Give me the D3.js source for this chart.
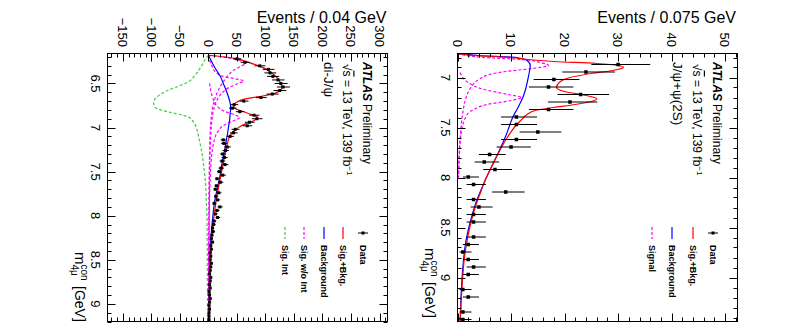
<!DOCTYPE html>
<html>
<head>
<meta charset="utf-8">
<script src="https://cdn.jsdelivr.net/npm/d3@7"></script>
<style>
  body { margin: 0; background: #fff; }
  svg { display: block; }
  text { font-family: "Liberation Sans", Arial, sans-serif; }
</style>
</head>
<body>
<div id="chart"></div>
<script>
// ---------- di-J/psi panel (0.04 GeV bins) ----------
const diMass = [
  6.22, 6.26, 6.30, 6.34, 6.38, 6.42, 6.46, 6.50, 6.54, 6.58,
  6.62, 6.66, 6.70, 6.74, 6.78, 6.82, 6.86, 6.90, 6.94, 6.98,
  7.02, 7.06, 7.10, 7.14, 7.18, 7.22, 7.26, 7.30, 7.34, 7.38,
  7.42, 7.46, 7.50, 7.54, 7.58, 7.62, 7.66, 7.70, 7.74, 7.78,
  7.82, 7.86, 7.90, 7.94, 7.98, 8.02, 8.06, 8.10, 8.14, 8.18,
  8.22, 8.26, 8.30, 8.34, 8.38, 8.42, 8.46, 8.50, 8.54, 8.58,
  8.62, 8.66, 8.70, 8.74, 8.78, 8.82, 8.86, 8.90, 8.94, 8.98,
  9.02, 9.06, 9.10, 9.14, 9.18
];
const diCounts = [
  50, 64, 90, 105, 108, 113, 122, 127, 131, 125,
  112, 92, 62, 45, 42, 55, 80, 85, 72, 68,
  47, 44, 38, 26, 27, 33, 30, 25, 28, 24,
  29, 22, 19, 25, 15, 21, 14, 12, 18, 13,
  16, 10, 20, 15, 12, 16, 10, 9, 7, 8,
  6, 5, 7, 4, 5, 3, 4, 3, 5, 4,
  3, 2, 4, 3, 2, 3, 1, 2, 3, 2,
  1, 2, 1, 1, 1
];
// curves as [mass, events]
const diSigBkg = [[6.18,0],[6.20,30],[6.22,50],[6.26,70],[6.30,88],[6.34,102],[6.39,113],[6.44,121],[6.50,127],[6.55,129],[6.59,123],[6.62,112],[6.65,88],[6.68,62],[6.71,50],[6.75,44],[6.78,46],[6.81,57],[6.84,70],[6.87,84],[6.89,86],[6.92,80],[6.95,68],[6.99,55],[7.03,46],[7.08,39],[7.14,35],[7.22,32],[7.30,29],[7.40,26],[7.50,23],[7.60,20],[7.70,17],[7.80,14],[7.90,12],[8.00,10],[8.10,8],[8.20,6.5],[8.40,4.5],[8.60,3.2],[8.80,2.5],[9.00,2],[9.20,1.6]];
const diBkg = [[6.18,0],[6.22,3],[6.27,7],[6.35,14],[6.42,21],[6.50,26],[6.56,30],[6.65,35],[6.72,38],[6.77,39],[6.85,38],[6.92,37],[7.00,35],[7.07,33.5],[7.14,31.5],[7.22,29.5],[7.30,27],[7.40,24],[7.52,21],[7.62,18],[7.71,15],[7.80,12],[7.90,9.5],[8.02,7.5],[8.15,5.5],[8.30,4],[8.50,3],[8.80,2.2],[9.20,1.5]];
const diSigNoIntA = [[6.18,0],[6.20,25],[6.23,50],[6.27,65],[6.31,55],[6.36,42],[6.42,33],[6.50,24],[6.58,17],[6.66,12],[6.75,8],[6.85,5.5],[7.00,3.5],[7.30,2],[7.80,1],[8.50,0.5],[9.20,0.3]];
const diSigNoIntB = [[6.18,0],[6.30,6],[6.38,14],[6.42,25],[6.45,50],[6.47,62],[6.50,52],[6.55,35],[6.62,22],[6.70,14],[6.80,9],[7.00,5],[7.50,2],[8.00,1],[9.20,0.3]];
const diSigNoIntC = [[6.50,2],[6.65,7],[6.75,14],[6.82,30],[6.86,48],[6.89,55],[6.92,45],[6.97,28],[7.05,16],[7.15,10],[7.30,6],[7.60,3],[8.00,1.5],[9.20,0.5]];
const diSigInt = [[6.18,0],[6.21,-4],[6.25,-8],[6.30,-12],[6.35,-17],[6.42,-25],[6.48,-35],[6.53,-52],[6.58,-72],[6.63,-86],[6.67,-93],[6.72,-96],[6.77,-94],[6.80,-84],[6.83,-65],[6.86,-45],[6.88,-35],[6.93,-27],[6.97,-23],[7.05,-19],[7.11,-17],[7.20,-14],[7.30,-11],[7.45,-8],[7.64,-5],[7.85,-3.5],[8.00,-2.5],[8.50,-2],[9.20,-1.5]];

// ---------- J/psi + psi(2S) panel (0.075 GeV bins) ----------
const jpMass = [
  6.870, 6.945, 7.020, 7.095, 7.170, 7.245, 7.320, 7.395, 7.470, 7.545,
  7.620, 7.695, 7.770, 7.845, 7.920, 7.995, 8.070, 8.145, 8.220, 8.295,
  8.370, 8.445, 8.520, 8.595, 8.670, 8.745, 8.820, 8.895, 8.970, 9.045,
  9.120, 9.195, 9.270, 9.345, 9.420
];
const jpCounts = [
  30, 24, 18, 17, 23, 21, 17, 11, 11, 15,
  11, 10, 6, 5, 7, 2, 3, 9, 3, 4,
  3, 3, 0, 3, 2, 1, 2, 3, 2, 0,
  1, 2, 0, 1, 1
];
const jpSigBkg = [[6.76,0],[6.78,3],[6.80,10],[6.82,13],[6.84,18],[6.86,26],[6.88,30],[6.90,31],[6.93,29],[6.96,25],[7.00,21],[7.05,19],[7.10,18.5],[7.14,20],[7.18,24],[7.21,26],[7.24,25],[7.27,22],[7.30,18],[7.33,14.5],[7.37,13],[7.43,11.8],[7.50,10.6],[7.60,9.3],[7.70,8.2],[7.80,7.2],[7.93,6],[8.05,5],[8.15,4.3],[8.30,3.3],[8.45,2.5],[8.60,1.9],[8.80,1.3],[9.05,0.9],[9.44,0.5]];
const jpBkg = [[6.76,0],[6.78,4],[6.80,11],[6.83,13],[6.88,13.6],[6.95,13.4],[7.03,13.1],[7.12,12.7],[7.20,12.2],[7.30,11.3],[7.40,10.3],[7.50,9.6],[7.56,9.2],[7.65,8.5],[7.80,7.2],[7.90,6.3],[8.00,5.4],[8.10,4.6],[8.23,3.6],[8.40,2.6],[8.55,1.9],[8.66,1.5],[8.90,1.0],[9.20,0.65],[9.44,0.5]];
const jpSigA = [[6.76,0],[6.80,5],[6.82,12],[6.85,15.5],[6.88,17],[6.91,14],[6.94,9],[6.97,6],[7.02,4],[7.10,2.5],[7.20,1.6],[7.35,1],[7.60,0.5],[8.00,0.2]];
const jpSigB = [[6.95,0.5],[7.05,2],[7.12,5],[7.17,9.5],[7.20,12],[7.23,10],[7.27,5.5],[7.32,3],[7.40,1.5],[7.60,0.6],[8.00,0.2]];

const W = 794, H = 332;
const svg = d3.select("#chart").append("svg").attr("width", W).attr("height", H);

const RED = "#ff0000", BLUE = "#0000ff", MAG = "#ff00ff", GREEN = "#44c844";

const panels = [
  {
    id: "di", left: 107.5, right: 387.5, top: 53.5, bottom: 321.5,
    evDomain: [-177, 314], mDomain: [6.16, 9.2],
    evMajor: d3.range(-150, 301, 50), evMinor: d3.range(-170, 314, 10),
    mMajor: [6.5, 7, 7.5, 8, 8.5, 9], mMinor: d3.range(6.2, 9.21, 0.1),
    title: "Events / 0.04 GeV", titleX: 386.5,
    mTitleX: 74.5, mTitleY: 252, mLabelX: 90.5,
    mass: diMass, counts: diCounts, marker: 3,
    curves: [
      { data: diSigInt, color: GREEN, dash: "3,2" },
      { data: diSigNoIntA, color: MAG, dash: "3,2" },
      { data: diSigNoIntB, color: MAG, dash: "3,2" },
      { data: diSigNoIntC, color: MAG, dash: "3,2" },
      { data: diBkg, color: BLUE },
      { data: diSigBkg, color: RED }
    ],
    texts: { atlasX: 362.5, sqrtX: 342.5, chanX: 323.5, chan: "di-J/ψ" },
    legend: [
      { x: 363, type: "data", label: "Data" },
      { x: 343, color: RED, label: "Sig.+Bkg." },
      { x: 324, color: BLUE, label: "Background" },
      { x: 304, color: MAG, dash: "3,2", label: "Sig. w/o Int" },
      { x: 285, color: GREEN, dash: "3,2", label: "Sig. Int" }
    ]
  },
  {
    id: "jp", left: 457.5, right: 737.5, top: 53.5, bottom: 321.5,
    evDomain: [0, 52.3], mDomain: [6.76, 9.44],
    evMajor: d3.range(0, 51, 10), evMinor: d3.range(0, 52.3, 2),
    mMajor: [7, 7.5, 8, 8.5, 9], mMinor: d3.range(6.8, 9.41, 0.1),
    title: "Events / 0.075 GeV", titleX: 736,
    mTitleX: 425, mTitleY: 248, mLabelX: 440.5,
    mass: jpMass, counts: jpCounts, marker: 3.5,
    curves: [
      { data: jpSigA, color: MAG, dash: "3,2" },
      { data: jpSigB, color: MAG, dash: "3,2" },
      { data: jpBkg, color: BLUE },
      { data: jpSigBkg, color: RED }
    ],
    texts: { atlasX: 712.5, sqrtX: 693, chanX: 672.5, chan: "J/ψ+ψ(2S)" },
    legend: [
      { x: 713, type: "data", label: "Data" },
      { x: 693, color: RED, label: "Sig.+Bkg." },
      { x: 672, color: BLUE, label: "Background" },
      { x: 652, color: MAG, dash: "3,2", label: "Signal" }
    ]
  }
];

function rotText(g, x, y, str, size, anchor) {
  return g.append("text")
    .attr("transform", `translate(${x},${y}) rotate(90)`)
    .attr("text-anchor", anchor || "start")
    .attr("font-size", size)
    .text(str);
}

function drawPanel(p) {
  const x = d3.scaleLinear().domain(p.evDomain).range([p.left, p.right]);
  const y = d3.scaleLinear().domain(p.mDomain).range([p.top, p.bottom]);
  const g = svg.append("g");

  svg.append("clipPath").attr("id", "clip-" + p.id)
    .append("rect").attr("x", p.left).attr("y", p.top)
    .attr("width", p.right - p.left).attr("height", p.bottom - p.top);

  const plot = g.append("g").attr("clip-path", `url(#clip-${p.id})`);
  const line = d3.line().x(d => x(d[1])).y(d => y(d[0])).curve(d3.curveMonotoneY);

  p.curves.forEach(c => {
    plot.append("path")
      .attr("d", line(c.data))
      .attr("fill", "none")
      .attr("stroke", c.color)
      .attr("stroke-width", 1.2)
      .attr("stroke-dasharray", c.dash || null);
  });

  // data points with Poisson-like error bars
  const pts = p.mass.map((m, i) => ({ m, n: p.counts[i] })).filter(d => d.n > 0);
  const dg = plot.append("g");
  dg.selectAll("line.err").data(pts).enter().append("line")
    .attr("x1", d => x(d.n + 0.5 - Math.sqrt(d.n + 0.25)))
    .attr("x2", d => x(d.n + 0.5 + Math.sqrt(d.n + 0.25)))
    .attr("y1", d => y(d.m)).attr("y2", d => y(d.m))
    .attr("stroke", "#000").attr("stroke-width", 1);
  dg.selectAll("rect").data(pts).enter().append("rect")
    .attr("x", d => x(d.n) - p.marker / 2)
    .attr("y", d => y(d.m) - p.marker / 2)
    .attr("width", p.marker).attr("height", p.marker)
    .attr("fill", "#000");

  // ticks on all four sides, pointing inwards
  const tk = g.append("g").attr("stroke", "#000").attr("stroke-width", 1);
  const evTick = (vals, len) => vals.forEach(v => {
    const xx = Math.round(x(v)) + 0.5;
    tk.append("line").attr("x1", xx).attr("x2", xx).attr("y1", p.top).attr("y2", p.top + len);
    tk.append("line").attr("x1", xx).attr("x2", xx).attr("y1", p.bottom).attr("y2", p.bottom - len);
  });
  const mTick = (vals, len) => vals.forEach(v => {
    const yy = Math.round(y(v)) + 0.5;
    tk.append("line").attr("y1", yy).attr("y2", yy).attr("x1", p.left).attr("x2", p.left + len);
    tk.append("line").attr("y1", yy).attr("y2", yy).attr("x1", p.right).attr("x2", p.right - len);
  });
  evTick(p.evMinor, 4); evTick(p.evMajor, 8);
  mTick(p.mMinor, 4); mTick(p.mMajor, 8);

  g.append("rect")
    .attr("x", p.left).attr("y", p.top)
    .attr("width", p.right - p.left).attr("height", p.bottom - p.top)
    .attr("fill", "none").attr("stroke", "#000").attr("stroke-width", 1);

  // tick labels (rotated like the whole figure)
  p.evMajor.forEach(v => {
    rotText(g, x(v) - 4.7, 47, v < 0 ? "−" + Math.abs(v) : String(v), 13, "end");
  });
  p.mMajor.forEach(v => {
    rotText(g, p.mLabelX, y(v), String(v), 13, "middle");
  });

  // axis titles
  g.append("text").attr("x", p.titleX).attr("y", 22.5)
    .attr("text-anchor", "end").attr("font-size", 16).text(p.title);

  const mt = g.append("g").attr("transform", `translate(${p.mTitleX},${p.mTitleY}) rotate(90)`);
  mt.append("text").attr("font-size", 15).text("m");
  mt.append("text").attr("x", 12.5).attr("y", -6).attr("font-size", 10).text("con");
  mt.append("text").attr("x", 12.5).attr("y", 4).attr("font-size", 10).text("4μ");
  mt.append("text").attr("x", 34).attr("font-size", 14).text("[GeV]");

  // ATLAS label block
  const at = rotText(g, p.texts.atlasX, 62, "", 12);
  at.append("tspan").attr("font-weight", "bold").attr("font-style", "italic").text("ATLAS");
  at.append("tspan").attr("dx", 3).text("Preliminary");
  const sq = rotText(g, p.texts.sqrtX, 64, "", 12);
  sq.append("tspan").text("√");
  sq.append("tspan").attr("text-decoration", "overline").text("s");
  sq.append("tspan").text(" = 13 TeV, 139 fb");
  sq.append("tspan").attr("dy", -4).attr("font-size", 8).text("−1");
  rotText(g, p.texts.chanX, 62, p.texts.chan, 13.5);

  // legend
  const lg = g.append("g");
  p.legend.forEach(e => {
    if (e.type === "data") {
      lg.append("line").attr("x1", e.x - 5).attr("x2", e.x + 5).attr("y1", 233).attr("y2", 233)
        .attr("stroke", "#000");
      lg.append("rect").attr("x", e.x - 1.5).attr("y", 231.5).attr("width", 3).attr("height", 3);
    } else {
      lg.append("line").attr("x1", e.x).attr("x2", e.x).attr("y1", 227).attr("y2", 239)
        .attr("stroke", e.color).attr("stroke-width", 1.2)
        .attr("stroke-dasharray", e.dash || null);
    }
    rotText(lg, e.x - 3, 245, e.label, 9)
      .attr("font-family", "'Liberation Mono', monospace")
      .attr("font-weight", "bold");
  });
}

panels.forEach(drawPanel);
</script>
</body>
</html>
